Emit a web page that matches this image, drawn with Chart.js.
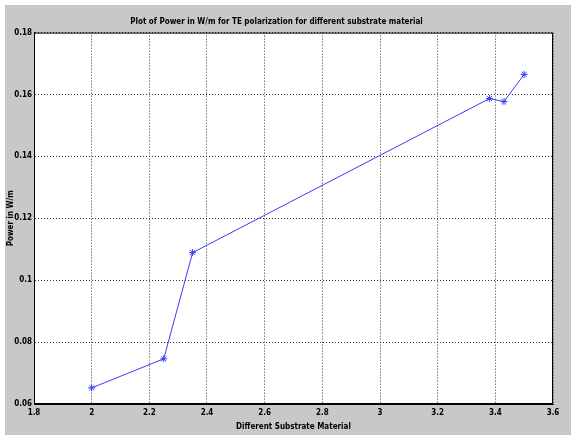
<!DOCTYPE html>
<html>
<head>
<meta charset="utf-8">
<script src="https://cdn.jsdelivr.net/npm/chart.js@4"></script>
<style>
  html, body { margin: 0; padding: 0; background: #fff; }
  #wrap { width: 576px; height: 440px; }
</style>
</head>
<body>
<div id="wrap"><canvas id="grafica" width="576" height="440"></canvas></div>
<script>
// data
const sustrato = [2.0, 2.25, 2.35, 3.38, 3.43, 3.5];
const potencia = [0.0652, 0.0746, 0.1089, 0.1587, 0.1577, 0.1665];
const xTicks = [1.8, 2, 2.2, 2.4, 2.6, 2.8, 3, 3.2, 3.4, 3.6];
const yTicks = [0.06, 0.08, 0.1, 0.12, 0.14, 0.16, 0.18];

const fuente = "'Liberation Sans Narrow', 'DejaVu Sans Condensed', 'Liberation Sans', sans-serif";

/* fondo gris tipo figura de MATLAB */
const fondo = {
    id: 'fondo',
    beforeDraw(chart) {
        const ctx = chart.ctx;
        const a = chart.chartArea;
        ctx.save();
        ctx.fillStyle = '#ffffff';
        ctx.fillRect(0, 0, chart.width, chart.height);
        ctx.fillStyle = '#c8c8c8';
        ctx.fillRect(5, 5, chart.width - 10, chart.height - 10);
        ctx.fillStyle = '#ffffff';
        ctx.fillRect(a.left, a.top, a.right - a.left, a.bottom - a.top);
        ctx.restore();
    },
    afterDatasetsDraw(chart) {
        const ctx = chart.ctx;
        const a = chart.chartArea;
        ctx.save();
        ctx.strokeStyle = '#000';
        ctx.lineWidth = 1;
        ctx.strokeRect(a.left + 0.5, a.top + 0.5, a.right - a.left - 1, a.bottom - a.top - 1);
        ctx.restore();
    }
};

const pts = sustrato.map((x, i) => ({ x: x, y: potencia[i] }));

new Chart(document.getElementById('grafica').getContext('2d'), {
    type: 'line',
    data: {
        datasets: [{
            data: pts,
            borderColor: '#3b3bff',
            backgroundColor: '#3b3bff',
            borderWidth: 1,
            pointStyle: 'star',
            pointRadius: 3.5,
            pointBorderWidth: 1,
            tension: 0,
            fill: false
        }]
    },
    options: {
        responsive: false,
        animation: false,
        layout: { padding: { left: 0, right: 23, top: 0, bottom: 0 } },
        plugins: {
            legend: { display: false },
            tooltip: { enabled: false },
            title: {
                display: true,
                text: 'Plot of Power in W/m for TE polarization for different substrate material',
                color: '#000',
                font: { family: fuente, size: 8, weight: 'bold' },
                padding: { top: 17, bottom: 6 }
            }
        },
        scales: {
            x: {
                type: 'linear',
                min: 1.8,
                max: 3.6,
                afterBuildTicks: s => { s.ticks = xTicks.map(v => ({ value: v })); },
                afterFit: s => { s.height = 36; },
                ticks: {
                    color: '#000',
                    font: { family: fuente, size: 8, weight: 'bold' },
                    padding: 4,
                    maxRotation: 0,
                    callback: v => String(v)
                },
                grid: {
                    color: '#333',
                    drawTicks: false
                },
                border: { color: '#000', dash: [1, 2] },
                title: {
                    display: true,
                    text: 'Different Substrate Material',
                    color: '#000',
                    font: { family: fuente, size: 8, weight: 'bold' },
                    padding: { top: 2, bottom: 8 }
                }
            },
            y: {
                type: 'linear',
                min: 0.06,
                max: 0.18,
                afterBuildTicks: s => { s.ticks = yTicks.map(v => ({ value: v })); },
                afterFit: s => { s.width = 34; },
                ticks: {
                    color: '#000',
                    font: { family: fuente, size: 8, weight: 'bold' },
                    padding: 2,
                    callback: v => String(Math.round(v * 100) / 100)
                },
                grid: {
                    color: '#333',
                    drawTicks: false
                },
                border: { color: '#000', dash: [1, 2] },
                title: {
                    display: true,
                    text: 'Power in W/m',
                    color: '#000',
                    font: { family: fuente, size: 8, weight: 'bold' },
                    padding: { top: 6, bottom: 0 }
                }
            }
        }
    },
    plugins: [fondo]
});
</script>
</body>
</html>
